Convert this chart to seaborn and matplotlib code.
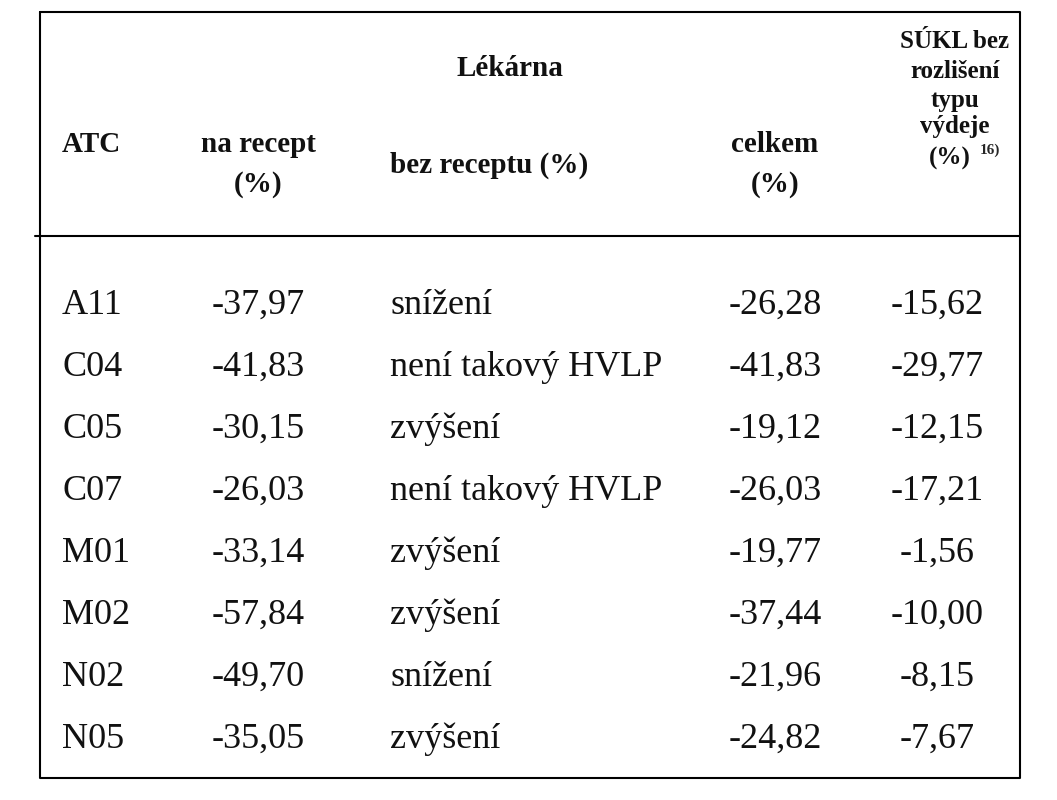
import matplotlib
matplotlib.use("Agg")
import matplotlib.pyplot as plt
import seaborn as sns

sns.set_theme(style="white")
plt.rcParams['font.family'] = ['Liberation Serif', 'DejaVu Serif']

atc = ["A11", "C04", "C05", "C07", "M01", "M02", "N02", "N05"]
na_recept = ["-37,97", "-41,83", "-30,15", "-26,03", "-33,14", "-57,84", "-49,70", "-35,05"]
bez_receptu = ["snížení", "není takový HVLP", "zvýšení", "není takový HVLP",
               "zvýšení", "zvýšení", "snížení", "zvýšení"]
celkem = ["-26,28", "-41,83", "-19,12", "-26,03", "-19,77", "-37,44", "-21,96", "-24,82"]
sukl = ["-15,62", "-29,77", "-12,15", "-17,21", "-1,56", "-10,00", "-8,15", "-7,67"]

fig = plt.figure(figsize=(10.57, 8), dpi=100)
ax = fig.add_axes([0, 0, 1, 1])
ax.set_xlim(0, 1057)
ax.set_ylim(800, 0)
ax.axis("off")

ax.plot([40, 1020, 1020, 40, 40], [12, 12, 778, 778, 12], color="black", lw=1.5)
ax.plot([35, 1020], [236, 236], color="black", lw=1.5)

hb = dict(fontsize=21, fontweight="bold", color="#111111")
ax.text(510, 68, "Lékárna", ha="center", va="center", **hb)
ax.text(62, 145, "ATC", ha="left", va="center", **hb)
ax.text(258, 145, "na recept", ha="center", va="center", **hb)
ax.text(258, 185, "(%)", ha="center", va="center", **hb)
ax.text(390, 165, "bez receptu (%)", ha="left", va="center", **hb)
ax.text(775, 145, "celkem", ha="center", va="center", **hb)
ax.text(775, 185, "(%)", ha="center", va="center", **hb)
sb = dict(fontsize=18, fontweight="bold", color="#111111")
for y, s in zip([42, 72, 100, 127], ["SÚKL bez", "rozlišení", "typu", "výdeje"]):
    ax.text(955, y, s, ha="center", va="center", **sb)
ax.text(950, 158, "(%)", ha="center", va="center", **sb)
ax.text(980, 150, "16)", ha="left", va="center", fontsize=11, fontweight="bold")

df = dict(fontsize=26, color="#111111", va="center")
for i in range(len(atc)):
    y = 305 + 62 * i
    ax.text(62, y, atc[i], ha="left", **df)
    ax.text(258, y, na_recept[i], ha="center", **df)
    ax.text(390, y, bez_receptu[i], ha="left", **df)
    ax.text(775, y, celkem[i], ha="center", **df)
    ax.text(937, y, sukl[i], ha="center", **df)

fig.savefig("out.png", dpi=100, facecolor="white")
